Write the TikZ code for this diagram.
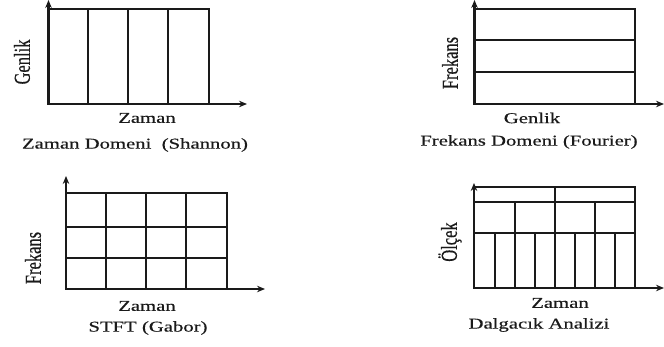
\documentclass[tikz,border=0pt]{standalone}
\usepackage{fontspec}
\setmainfont{Liberation Serif}
\newfontfamily\labfont{Liberation Serif}[FakeBold=0.4]
\usetikzlibrary{arrows.meta}
\definecolor{ink}{HTML}{1A1A1A}
\tikzset{
  grid/.style={line width=2.3pt, draw=ink},
  axis/.style={line width=2.3pt, draw=ink, -{Stealth[length=8pt,width=6.5pt]}},
  hlab/.style={inner sep=0pt, text=ink, font=\labfont\fontsize{15}{18}\selectfont},
  vlab/.style={inner sep=0pt, text=ink, font=\labfont\fontsize{16.5}{18}\selectfont},
}
\newcommand{\hs}[1]{\scalebox{1.38}[1]{#1}}
\newcommand{\vs}[1]{\rotatebox{90}{\scalebox{1}[1.38]{#1}}}
\begin{document}
\begin{tikzpicture}[x=1pt,y=-1pt]
\useasboundingbox (0,0) rectangle (664,347);

% ---------- Panel 1: Zaman Domeni (Shannon)
\coordinate (o1) at (48.5,104);
\coordinate (y1) at (48.5,0);
\coordinate (x1) at (247,104);
\draw[grid] (48.5,9) rectangle (209,104);
\foreach \x in {88,128,168} \draw[grid] (\x,9) -- (\x,104);
\draw[axis] (o1) -- (y1);
\draw[axis] (o1) -- (x1);
\node[vlab] (l1y) at (22,62) {\vs{Genlik}};
\node[hlab] (l1x) at (147,118) {\hs{Zaman}};
\node[hlab] (l1c) at (135,145) {\hs{Zaman Domeni\ \ (Shannon)}};

% ---------- Panel 2: Frekans Domeni (Fourier)
\coordinate (o2) at (474.5,104);
\coordinate (y2) at (474.5,0);
\coordinate (x2) at (664,104);
\draw[grid] (474.5,9) rectangle (635,104);
\foreach \y in {40,72} \draw[grid] (474.5,\y) -- (635,\y);
\draw[axis, line width=3pt] (o2) -- (y2);
\draw[axis] (o2) -- (x2);
\node[vlab] (l2y) at (450,63) {\vs{Frekans}};
\node[hlab] (l2x) at (532,118) {\hs{Genlik}};
\node[hlab] (l2c) at (529,142) {\hs{Frekans Domeni (Fourier)}};

% ---------- Panel 3: STFT (Gabor)
\coordinate (o3) at (66,289);
\coordinate (y3) at (66,176);
\coordinate (x3) at (265,289);
\draw[grid] (66,193) rectangle (227,289);
\foreach \x in {106,146,186} \draw[grid] (\x,193) -- (\x,289);
\foreach \y in {227,258} \draw[grid] (66,\y) -- (227,\y);
\draw[axis] (o3) -- (y3);
\draw[axis] (o3) -- (x3);
\node[vlab] (l3y) at (33,258) {\vs{Frekans}};
\node[hlab] (l3x) at (147,306) {\hs{Zaman}};
\node[hlab] (l3c) at (148,328) {\hs{STFT (Gabor)}};

% ---------- Panel 4: Dalgacik Analizi
\coordinate (o4) at (474,288);
\coordinate (y4) at (474,183);
\coordinate (x4) at (664,288);
\draw[grid] (474,187) rectangle (635,288);
\foreach \y in {202,233} \draw[grid] (474,\y) -- (635,\y);
\draw[grid] (555,187) -- (555,202);
\foreach \x in {515,555,595} \draw[grid] (\x,202) -- (\x,233);
\foreach \x in {495,515,535,555,575,595,615} \draw[grid] (\x,233) -- (\x,288);
\draw[axis] (o4) -- (y4);
\draw[axis] (o4) -- (x4);
\node[vlab] (l4y) at (450,242) {\vs{Ölçek}};
\node[hlab] (l4x) at (560,303) {\hs{Zaman}};
\node[hlab] (l4c) at (539,325) {\hs{Dalgacık Analizi}};
\end{tikzpicture}
\end{document}
